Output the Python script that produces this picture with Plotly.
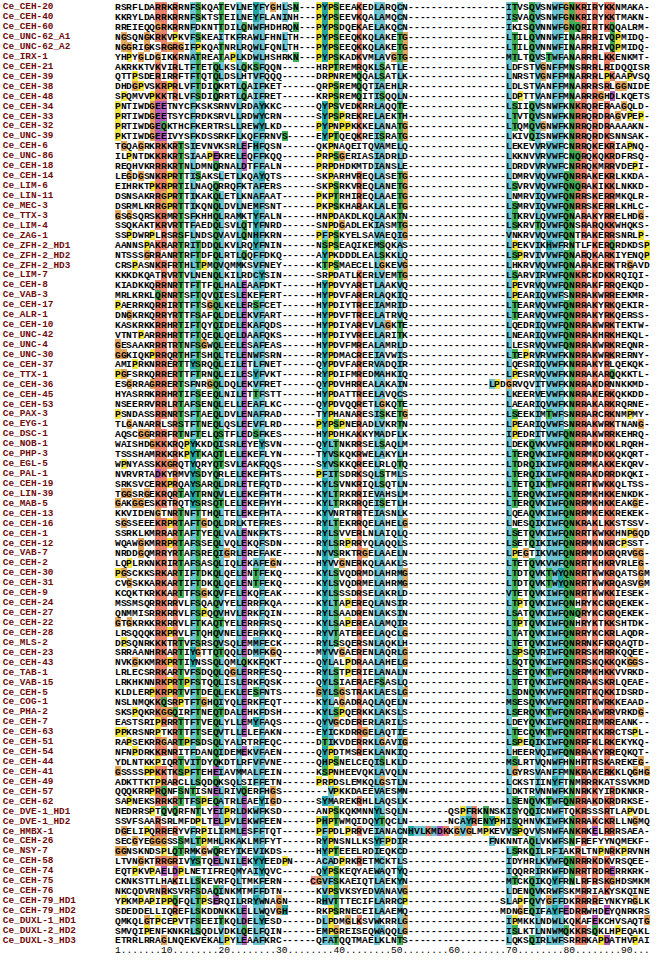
import plotly.graph_objects as go

names = [
    "Ce_CEH-20", "Ce_CEH-40", "Ce_CEH-60", "Ce_UNC-62_A1", "Ce_UNC-62_A2", "Ce_IRX-1",
    "Ce_CEH-21", "Ce_CEH-39", "Ce_CEH-38", "Ce_CEH-48", "Ce_CEH-34", "Ce_CEH-33",
    "Ce_CEH-32", "Ce_UNC-39", "Ce_CEH-6", "Ce_UNC-86", "Ce_CEH-18", "Ce_CEH-14",
    "Ce_LIM-6", "Ce_LIN-11", "Ce_MEC-3", "Ce_TTX-3", "Ce_LIM-4", "Ce_ZAG-1",
    "Ce_ZFH-2_HD1", "Ce_ZFH-2_HD2", "Ce_ZFH-2_HD3", "Ce_LIM-7", "Ce_CEH-8", "Ce_VAB-3",
    "Ce_CEH-17", "Ce_ALR-1", "Ce_CEH-10", "Ce_UNC-42", "Ce_UNC-4", "Ce_UNC-30",
    "Ce_CEH-37", "Ce_TTX-1", "Ce_CEH-36", "Ce_CEH-45", "Ce_CEH-53", "Ce_PAX-3",
    "Ce_EYG-1", "Ce_DSC-1", "Ce_NOB-1", "Ce_PHP-3", "Ce_EGL-5", "Ce_PAL-1",
    "Ce_CEH-19", "Ce_LIN-39", "Ce_MAB-5", "Ce_CEH-13", "Ce_CEH-16", "Ce_CEH-1",
    "Ce_CEH-12", "Ce_VAB-7", "Ce_CEH-2", "Ce_CEH-30", "Ce_CEH-31", "Ce_CEH-9",
    "Ce_CEH-24", "Ce_CEH-27", "Ce_CEH-22", "Ce_CEH-28", "Ce_MLS-2", "Ce_CEH-23",
    "Ce_CEH-43", "Ce_TAB-1", "Ce_VAB-15", "Ce_CEH-5", "Ce_COG-1", "Ce_PHA-2",
    "Ce_CEH-7", "Ce_CEH-63", "Ce_CEH-51", "Ce_CEH-54", "Ce_CEH-44", "Ce_CEH-41",
    "Ce_CEH-49", "Ce_CEH-57", "Ce_CEH-62", "Ce_DVE-1_HD1", "Ce_DVE-1_HD2", "Ce_HMBX-1",
    "Ce_CEH-26", "Ce_NSY-7", "Ce_CEH-58", "Ce_CEH-74", "Ce_CEH-75", "Ce_CEH-76",
    "Ce_CEH-79_HD1", "Ce_CEH-79_HD2", "Ce_DUXL-1_HD1", "Ce_DUXL-2_HD2", "Ce_DUXL-3_HD3",
]

seqs = [
    "RSRFLDARRKRRNFSKQATEVLNEYFYGHLSN---PYPSEEAKEDLARQCN-----------------ITVSQVSNWFGNKRIRYKKNMAKA-",
    "KKRYLDARRKRRNFSKTSTEILNEYFLANINH---PYPSEEVKQALAMQCN-----------------ISVAQVSNWFGNKRIRYKKTMAKN-",
    "RREIEQQGRKRRNFDKNTTDILQNWFHDHRQN---PYPSDQEKAELAKQCN-----------------IKISQVNNWFGNQRIRTKQQALRM-",
    "NGSQNGKRKVPKVFSKEAITKFRAWLFHNLTH---PYPSEEQKKQLAKETG-----------------LTILQVNNWFINARRRIVQPMIDQ-",
    "NGGRIGKSRGRGIFPKQATNRLRQWLFQNLTH---PYPSEEQKKQLAKETG-----------------LTILQVNNWFINARRRIVQPMIDQ-",
    "YHPYGLDGIKKRNATREATAPLKDWLHSHRKN---PYPSKADKVMLAVGTG-----------------MTLTQVSTWFANARRRLKKENKMT-",
    "AKRKKTVKVIRLTFTETQLKSLQKSFQQN------HRPTREMRQKLSATLE-----------------LDFSTVGNFFMNSRRRLRIDQQISR",
    "QTTPSDERIRRFTFTQTQLDSLHTVFQQQ------DRPNREMQQALSATLK-----------------LNRSTVGNFFMNARRRLPKAAPVSQ",
    "DHDGPVSKRPRLVFTDIQKRTLQAIFKET------QRPSREMQQTIAEHLR-----------------LDLSTVANFFMNARRRSRLGGNIDE",
    "SPQMVVPKKTRLVFSDIQRRTLQAIFRET------KRPSREMQITISQQLN-----------------LDPTTVANFFMNARRRGHDLKQETS",
    "PNTIWDGEETNYCFKSKSRNVLRDAYKKC------QYPSVEDKRRLAQQTE-----------------LSIIQVSNWFKNKRQRERAAGQLD-",
    "PRTIWDGEETSYCFRDKSRVLLRDWYCRN------SYPSPREKRELAEKTH-----------------LTVTQVSNWFKNRRQRDRAGVPEP-",
    "PRTIWDGEQKTHCFKERTRSLLREWYLKD------PYPNPPKKKELANATG-----------------LTQMQVGNWFKNRRQRDRAAAAKN-",
    "PKTIWDGEEIVYSFKDSSRKFLKQFFRNVS-----EYPTQEQKREISRATG-----------------LKIVQISNWFKNRRQRDKSNNSAK-",
    "TGQAGRKRKKRTSIEVNVKSRLEFHFQSN------QKPNAQEITQVAMELQ-----------------LEKEVVRVWFCNRRQKEKRIAPNQ-",
    "ILPNTDKKRKRTSIAAPEKRELEQFFKQQ------PRPSGERIASIADRLD-----------------LKKNVVRVWFCNQRQKQKRDFRSQ-",
    "REQHVKRRRKRTNLDMNQRNALDTFFALN------PRPDHDKMTDIANSLE-----------------LDRDVVRVWFCNRRQKMRRVDEPI-",
    "LEGDGSNKRPRTTISAKSLETLKQAYQTS------SKPARHVREQLASETG-----------------LDMRVVQVWFQNRRAKEKRLKKDA-",
    "EIHRKTPKRPRTILNAQQRRQFKTAFERS------SKPSRKVREQLANETG-----------------LSVRVVQVWFQNQRAKIKKLNKKD-",
    "DSNSAKRRGPRTTIKAKQLETLKNAFAAT------PKPTRHIREQLAAETG-----------------LNMRVIQVWFQNRRSKERRMKQLR-",
    "DSRMLKRRGPRTTIKQNQLDVLNEMFSNT------PKPSKHARAKLALETG-----------------LSMRVIQVWFQNRRSKERRLKHLC-",
    "GSGSQRSKRMRTSFKHHQLRAMKTYFALN------HNPDAKDLKQLAAKTN-----------------LTKRVLQVWFQNARAKYRRELHDG-",
    "SSQKAKTKRVRTTFAEDQLSVLQTYFNRD------SNPDGADLEKIASMTG-----------------LSKRVTQVWFQNSRARQKKWHQKS-",
    "SSPDWRPLRSRSFLNDSQVAVLQNHFKRN------PFPSKYELSAVAEQIG-----------------VNKRVVQVWFQNTRAKERRSNRLP-",
    "AANNSPAKRARTRITDDQLKVLRQYFNIN------NSPSEAQIKEMSQKAS-----------------LPEKVIKHWFRNTLFKERQRDKDSP",
    "NTSSSGRRANRTRFTDFQLRTLQQFFDKQ------AYPKDDDLEALSKKLQ-----------------LSPRVIVVWFQNARQKARKIYENQP",
    "CRSPASNKRFRTHLTPMQVQMMKSVFNEY------KTPSMAECELLGKEVG-----------------LHKRVVQVWFQNARAKERKTRGAVD",
    "KKKDKQATRVRTVLNENQLKILRDCYSIN------SRPDATLKERLVEMTG-----------------LSARVIRVWFQNKRCKDKKRQIQI-",
    "KIADKKQRRNRTTFTTFQLHALEAAFDKT------HYPDVYARETLAAKVQ-----------------LPEVRVQVWFQNRRAKFRRQEKQD-",
    "MRLKRKLQRNRTSFTQVQIESLEKEFERT------HYPDVFARERLAQKIQ-----------------LPEARIQVWFSNRRAKWRREEKMR-",
    "PAERRKQRRIRTTFTSGQLKELERSFCET------HYPDIYTREEIAMRID-----------------LTEARVQVWFQNRRAKYRKQEKIR-",
    "DNGKRKQRRYRTTFSAFQLDELEKVFART------HYPDVFTREELATRVQ-----------------LTEARVQVWFQNRRAKYRKQERSS-",
    "KASKRKKRRHRTIFTQYQIDELEKAFQDS------HYPDIYAREVLAGKTE-----------------LQEDRIQVWFQNRRAKWRKTEKTW-",
    "VTNTPARRRHRTTFTQEQLQELDAAFQKS------HYPDIYVREELARITK-----------------LNEARIQVWFQNRRAKHRKHEKQL-",
    "GESAAKRRRTRTNFSGWQLEELESAFEAS------HYPDVFMREALAMRLD-----------------LLESRVQVWFQNRRAKWRKREQNR-",
    "GGKIQKPRRQRTHFTSHQLTELENWFSRN------RYPDMACREEIAVWIS-----------------LTEPRVRVWFKNRRAKWRKRERNY-",
    "AMIPRKNRRERTTYSRQQLEILETLFNET------QYPDVFARERVADQIR-----------------LQESRIQVWFKNRRAKYRLQEKQK-",
    "PGFSRKQRRERTTFTRNQLEILESYFVKT------RYPDIFMREDMAHKIQ-----------------LPESRVQVWFKNRRAKARQQKKTL-",
    "ESGRRAGRRERTSFNRGQLDQLEKVFRET------QYPDVHRREALAKAIN--------------LPDGRVQVITVWFKNRRAKDRNNKKMD-",
    "HYASRRKRRHRTIFSEEQLNILETTFSTT------HYPDATTREELAVQCS-----------------LKEERVEVWFKNRRAKERKQKKDD-",
    "NSEERRVRRLRTAFSENQLELLEEAFLKC------QYPDVQQRETLGKQTE-----------------LAEARIQVWFKNRRAKARKRQRNE-",
    "PSNDASSRRNRTSFTAEQLDVLENAFRAD------TYPHANARESISKETG-----------------LSEEKIMTWFSNRRARCRKNMPMY-",
    "TLGANARRLSRSTFTNEQLQSLEEVFLRD------PYPSPNERADLVKRTN-----------------LPEARIQVWFSNRRAKWRKTNANG-",
    "AQSCGGRRRFRTNFTELQSTFLEDSFKES------HYPDHKAKKYMADFLK-----------------IPEDRITVWFQNRRAKWRRKEHRQ-",
    "WAISHDGKKKRQPYKKDQISRLEYEYSVN------QYLTNKRRSELSAQLM-----------------LDEKQVKVWFQNRRMKDKKLRQRH-",
    "TSSSHAMRKKRKPYTKAQTLELEKEFLYN------TYVSKQKRWELAKYLH-----------------LTERQVKIWFQNRRMKDKKQKQRT-",
    "WPNYASSKKGRQTYQRYQTSVLEAKFQQS------SYVSKKQREELRLQTQ-----------------LTDRQIKIWFQNRRMKAKKEKQRV-",
    "NVRVRTADKYRMVYSDYQRLELEKEFHTS------PFITSDRKSQLSTMLS-----------------LTERQIKIWFQNRRAKDRRDKQKI-",
    "SRKSVCERKPRQAYSARQLDRLETEFQTD------KYLSVNKRIQLSQTLN-----------------LTETQIKTWFQNRRTKWKKQLTSS-",
    "TGGSRGEKRQRTAYTRNQVLELEKEFHTH------KYLTRKRRIEVAHSLM-----------------LTERQVKIWFQNRRMKHKKENKDK-",
    "GAKGGESKRTRQTYSRSQTLELEKEFHYH------KYLTRKRRQEISETLH-----------------LTERQVKIWFQNRRMKHKKEAKGE-",
    "KKVIDENGTNRTNFTTHQLTELEKEFHTA------KYVNRTRRTEIASNLK-----------------LQEAQVKIWFQNRRMKEKKREKEK-",
    "SGSSEEEKRPRTAFTGDQLDRLKTEFRES------RYLTEKRRQELAHELG-----------------LNESQIKIWFQNKRAKLKKSTSSV-",
    "SSRKLKMRRARTAFTYEQLVALENKFKTS------RYLSVVERLNLAIQLQ-----------------LSETQVKIWFQNRRTKWKKHNPGQD",
    "WQAWGKMRRPRTAFSSEQLVQLEKQFSDN------RYLSRPRRYQLAQQLS-----------------LSETQIKIWFQNRRMKNKRCPSST-",
    "NRDDGQMRRYRTAFSREQIGRLEREFAKE------NYVSRKTRGELAAELN-----------------LPEGTIKVWFQNRRMKDKRQRVGG-",
    "LQPLRKNKRIRTAFSASQLIQLEKAFEGN------HYVVGNERKQLAAKLS-----------------LTETQVKVWFQNRRTKHKRVRLEG-",
    "PGSCKKSRKARTIFTDKQLQELENTFEKQ------KYLSVQDRMDLAHRMG-----------------LTDTQVKTWYQNRRTKWKRQATSGM",
    "CVGSKKARKARTIFTDKQLQELENTFEKQ------KYLSVQDRMELAHRMG-----------------LTDTQVKTWYQNRRTKWKRQASVGM",
    "KCQKTKRKKARTTFSGKQVFELEKQFEAK------KYLSSSDRSELAKRLD-----------------VTETQVKIWFQNRRTKWKKIESEK-",
    "MSSMSQRRKRRVLFSQAQVYELERRFKQA------KYLTAPEREQLANSIR-----------------LTPTQVKIWFQNHRYKCKRQEKEK-",
    "QNMMISRRKRRVLFSPQQVHVLERKFQIN------RYLSAADRENLAKSIN-----------------LSATQVKIWFQNQRYKCKRQEKEK-",
    "GTGKRKKRKRRVLFTKAQTYELERRFRSQ------KYLSAPEREALAMQIR-----------------LTPTQVKIWFQNHRYKTKKSHTDK-",
    "LRSQQQKRKPRVLFTQHQVNELEERFKKQ------RYVTATEREELAQCLG-----------------LTATQVKIWFQNRRYKCKRLAQDR-",
    "DPSQNRKKKTRTVFSRSQVSQLEMMFECK------RYLSSQERSNLAQKLH-----------------LTETQVKIWFQNRRNKFKRQAQTD-",
    "SRRAANHRKARTIYGTTQTQQLEDMFKGQ------MYVVGAERENLAQRLG-----------------LSPSQVRIWFQNRRSKHRRKQQEE-",
    "NVKGKKMRKPRTIYNSSQLQMLQKKFQKT------QYLALPDRAALAHELG-----------------LSQTQVKIWFQNRRSKQKKQKGGS-",
    "LRLECSRRKARTVFSDQQLQGLERRFESQ------RYLSTPERIELANALN-----------------LSETQVKTWFQNRRMKHKKVVRKD-",
    "LRKHKNNRKPRTPFSTQQLISLERKFQSK------QYLSIAERAEFSASLQ-----------------LTETQVKIWFQNRRAKSKRLQEAE-",
    "KLDLERPKRPRTVFTDEQLEKLEESFNTS------GYLSGSTRAKLAESLG-----------------LSDNQVKVWFQNRRTKQKKIDSRD-",
    "NSLNMQKKQSRPTFTGHQIYQLERKFEQT------KYLAGADRAQLAQELN-----------------MSESQVKVWFQNRRTKWRKKEAAD-",
    "SKSPQKRKGGQIRFTNEQTDALEHKFDSH------KYLSPQERKKLAKSLS-----------------LSERQVKTWFQNRRAKWRRVRKDG-",
    "EASTSRIPRRRTTFTVEQLYLLEMYFAQS------QYVGCDERERLARILS-----------------LDEYQVKIWFQNRRIRMRREANK--",
    "PPKRSNRPTKRTTFTSEQVTLLELEFAKN------EYICKDRRGELAQTIE-----------------LTECQVKTWFQNRRTKKRRCTSPL-",
    "RAPSEKRRGARTPFSDSQLYALRTRFEQC------DTIKVDERRKLGAVIG-----------------LSPEQIKIWFQNRRFKLRKEKYKQ-",
    "NFNPDRKKRNRITFDANQIDEMEKVFAEN------QYPDTMSREKLANKIQ-----------------LHEERVQIWFQNRRAKYRREQKQT-",
    "YDLNTKKPIQRTVITDYQKDTLRFVFVNE------QHPSNELCEQISLKLD-----------------MSLRTVQNWFHNHRTRSKAREKEG-",
    "GSSSSPPKKTKSPFTEHEIAVMMALFEIN------KSPNHEEVQKLAVQLN-----------------LGYRSVANFFMNKRAKERKKLQGHG",
    "ADKTTKTPRARCLLSQDQKSQLSIFFETN------PRPDSLEMKQLGSTLN-----------------LCKSTIINYFTNMRRRKATSSVKMD",
    "QQQKRRPRQNFSNTISNELRIVQERFHGS--------VPKKDAEEVAESMN-----------------LDKTRVNNWFKNNRKKYIRDKNKR-",
    "SAPNEKSRRKRTTFSPEQATRLEAEYIGD------SYMAREKRHLLAQSLK-----------------LSENQVKTWFQNRRAKDKRDRKSE-",
    "NEDRRSPTQVQRFNTLYEIPRLDKWFKSD------ANPSKQKMNNYLSQLN-------QSPFRKNNSKISYQQICNWFTQKRSSSRTLAPVDL",
    "SSVFSAARSRLMFDPLTELPVLEKWFEEN------PHPTWMQIDQYTQCLN-------NCAYRENYPHISQHNVKIWFKNRRAKCKRLLNGMQ",
    "DGELIPQRRERYVFRPILIRMLESFFTQT------PFPDLPRRVEIANACNHVLKMDKKGVGLMPKEVVSPQVVSNWFANKRKELRRRSAEA-",
    "SECGYEGGGSSSMLTPMHLRKAKLMFFYT------RYPNSNLLKSYFPDIR--------------FNKNNTAQLVKWFSNFREFYYNQMEKF-",
    "GGNSKNDSPLQTRMKGWQREYIKEVIKDS------HYPTEEELRDIEQKCD-----------------LSRKQILRFIAKRLTNPNRKPRVNH",
    "LTVNGKTRRGRIVYSTQELNILEKYYEEDPN----ACADPRKRETMCKTLS-----------------IDYHRLKVWFQNRRRKDKVRSQEE-",
    "EQTPKVPAELDPLNETIFREQMYAIYQVC------QYPSKEQYAEWAQTYQ-----------------IQQRRIRKWFDNRRTRDRERRKRK-",
    "CKNKSTTLHAKILLSKEVRFQLTMKFERN-----CGVFSKAEIQTLAEKYN-----------------MTCKQIKQYFRNLRFRSKGHDSMKM",
    "NKCQDVRNRKSVRFSDAQINKMTMFFDTN------KVPSVKSYEDVANAVG-----------------LDENQVKRWFSKMRRIAKYSKQINE",
    "YPKMPAPIPPQFQLTPSERQILRRYWNAGN-----RHVTTTECIFLARRCP----------------SLAPFQVYGFFDKRRRREYNKYRGLK",
    "SDEDDELLIQREFLSKDDNKKLELLWQVGH-----RKPSRNECEILAAEMQ----------------MDNGEQIFAYFEDRRWHDEYQNRKRS",
    "QMKQLGTPCEPVTFSEEITKQLDELYESD------DLPDMGLKSVWKRRLG-----------------IPMKKLNDWLKQKAFEKCHVSAQTG",
    "SMVQIPENFKNKRLSQDLVDKLQELFQIN------EMPGREISEQWAQQLG-----------------ISLKTLNNWMQKKRSQKLHPEQAKL",
    "ETRRLRRAGLNQEKVEKALPYLEAAFKRC------QFATQQTMAELKLNTS-----------------LQKSQIRLWFSRRRKAPDATHVPAI",
]

ruler_marks = [1, 10, 20, 30, 40, 50, 60, 70, 80, 90]

ncol = 93
bad = [(n, len(s)) for n, s in zip(names, seqs) if len(s) != ncol]
if bad or len(names) != len(seqs):
    raise SystemExit("length problem: %s %d %d" % (bad, len(names), len(seqs)))

# clustal x style colours (percentages over residues, gaps left out)
palette = ["#ffffff", "#6fc4d2", "#e8806a", "#3fae55", "#b35ab8",
           "#e3a55a", "#f3e43c", "#22a3a6", "#f08c8c"]
WHITE, BLUE, RED, GREEN, MAGENTA, ORANGE, YELLOW, CYAN, PINK = range(9)


def colour_code(res, col):
    n = sum(col.values())
    if res == "-" or n == 0:
        return WHITE

    def f(group):
        return 100.0 * sum(col.get(a, 0) for a in group) / n

    hyd = f("WLVIMAFCYHP") >= 60
    if res in "AILMFWV":
        return BLUE if hyd else WHITE
    if res == "C":
        if f("C") >= 85:
            return PINK
        return BLUE if hyd else WHITE
    if res in "KR":
        ok = f("KR") >= 60 or any(f(a) >= 85 for a in "KRQ")
        return RED if ok else WHITE
    if res == "E":
        ok = f("KR") >= 60 or f("QE") >= 50 or f("ED") >= 50 or any(f(a) >= 85 for a in "EQD")
        return MAGENTA if ok else WHITE
    if res == "D":
        ok = f("KR") >= 60 or any(f(a) >= 85 for a in "KRQ") or f("ED") >= 50
        return MAGENTA if ok else WHITE
    if res == "N":
        ok = f("N") >= 50 or any(f(a) >= 85 for a in "NY")
        return GREEN if ok else WHITE
    if res == "Q":
        ok = f("KR") >= 60 or f("QE") >= 50 or any(f(a) >= 85 for a in "QEKR")
        return GREEN if ok else WHITE
    if res in "ST":
        ok = hyd or f("TS") >= 50 or any(f(a) >= 85 for a in "ST")
        return GREEN if ok else WHITE
    if res == "G":
        return ORANGE
    if res == "P":
        return YELLOW
    if res in "HY":
        ok = hyd or any(f(a) >= 85 for a in "WYACPQFHILMV")
        return CYAN if ok else WHITE
    return WHITE


counts = []
for j in range(ncol):
    c = {}
    for s in seqs:
        if s[j] != "-":
            c[s[j]] = c.get(s[j], 0) + 1
    counts.append(c)

z = [[colour_code(s[j], counts[j]) for j in range(ncol)] for s in seqs]
letters = [list(s) for s in seqs]

k = len(palette) - 1
cscale = []
for i, c in enumerate(palette):
    cscale.append([max(0.0, (i - 0.5) / k), c])
    cscale.append([min(1.0, (i + 0.5) / k), c])

nrow = len(seqs)
cols = list(range(1, ncol + 1))
rows = list(range(1, nrow + 1))

ruler = ["."] * ncol
for m in ruler_marks:
    lab = str(m)
    for i, ch in enumerate(lab):
        ruler[m - len(lab) + i] = ch

fig = go.Figure()
fig.add_trace(go.Heatmap(
    x=cols, y=rows, z=z, text=letters, texttemplate="%{text}",
    textfont=dict(family="Liberation Mono", size=9.6, color="black", weight="bold"),
    colorscale=cscale, zmin=0, zmax=k, showscale=False, hoverinfo="skip",
))
fig.add_trace(go.Scatter(
    x=[-19.0] * nrow, y=rows, text=names, mode="text", textposition="middle right",
    textfont=dict(family="Liberation Mono", size=9.4, color="#700c0c", weight="bold"),
    hoverinfo="skip", showlegend=False,
))
fig.add_trace(go.Scatter(
    x=cols, y=[nrow + 1] * ncol, text=ruler, mode="text", textposition="middle center",
    textfont=dict(family="Liberation Mono", size=9.6, color="black"),
    hoverinfo="skip", showlegend=False,
))

fig.update_layout(
    width=656, height=960,
    margin=dict(l=0, r=0, t=0, b=0),
    paper_bgcolor="white", plot_bgcolor="white",
    xaxis=dict(range=[-19.5, 94.59], visible=False, fixedrange=True),
    yaxis=dict(range=[96.97, 0.2986], visible=False, fixedrange=True),
    showlegend=False,
)

fig.write_html("out.html", config={"displayModeBar": False},
               post_script="document.body.style.margin='0';")
